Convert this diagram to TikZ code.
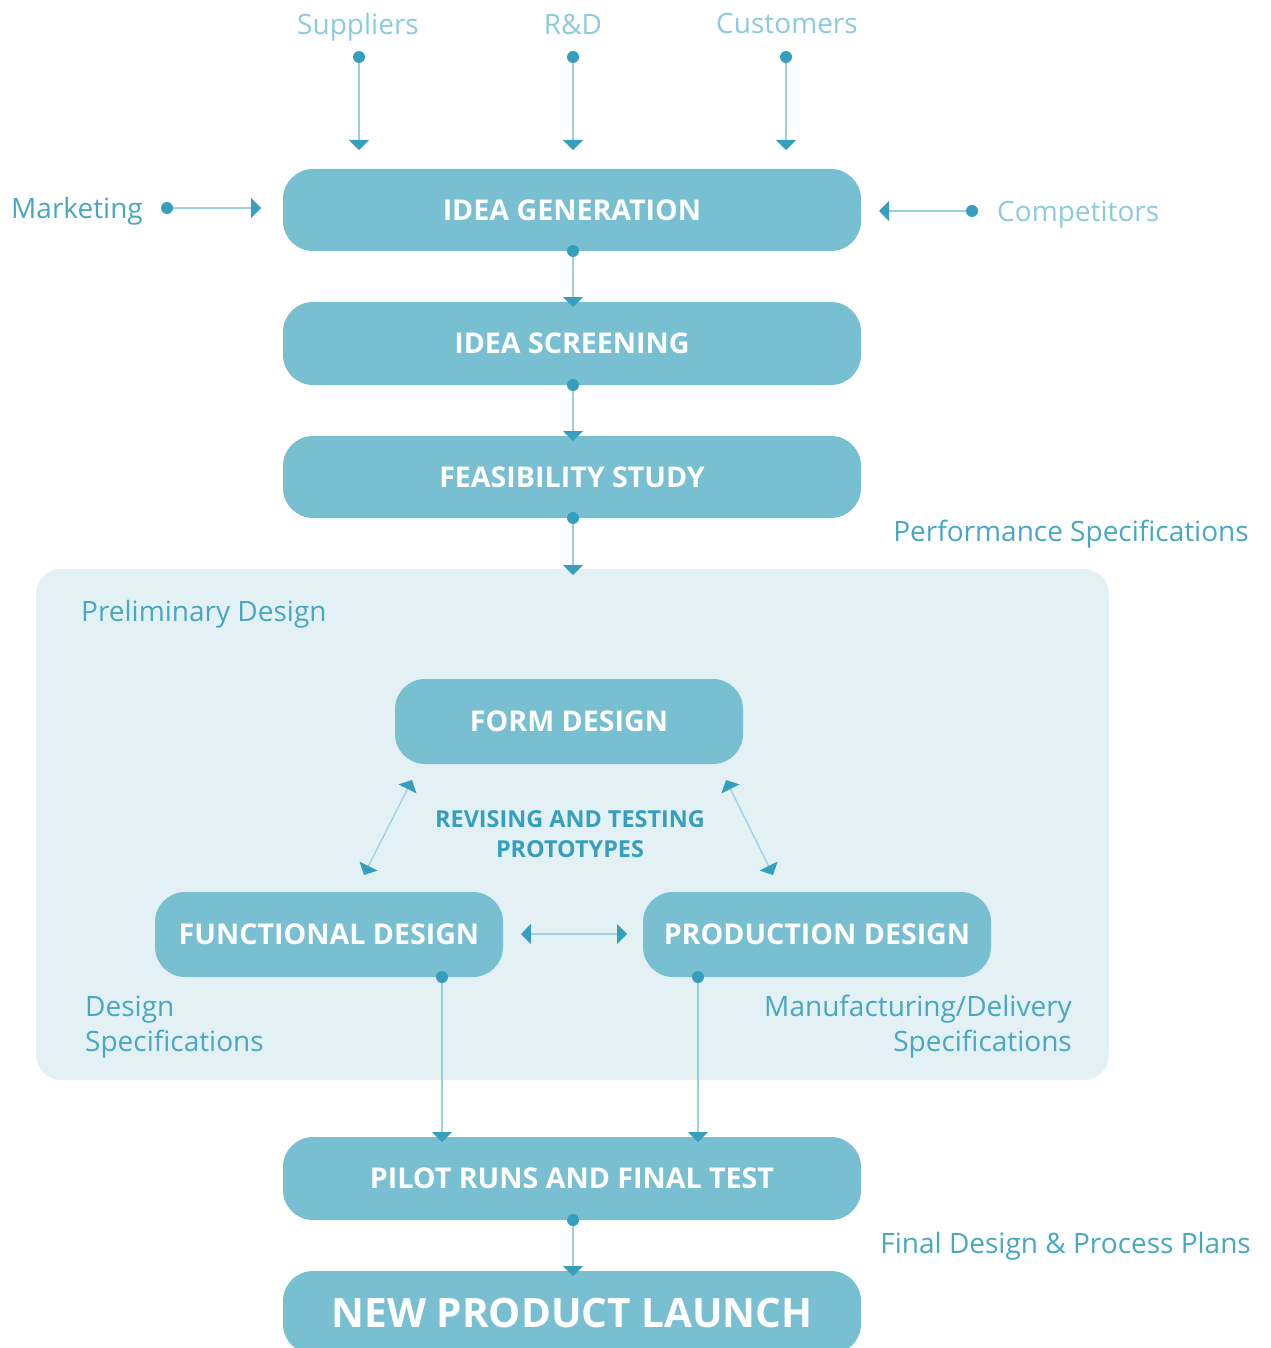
\documentclass[tikz,border=0pt]{standalone}
\usepackage{fontspec}
\setmainfont{Open Sans}
\usetikzlibrary{arrows.meta}
\definecolor{boxc}{HTML}{78BFD1}
\definecolor{panelc}{HTML}{E3F1F5}
\definecolor{tipc}{HTML}{379FBE}
\definecolor{linec}{HTML}{9CD0DF}
\definecolor{lightt}{HTML}{8CCBDD}
\definecolor{midt}{HTML}{48A7C2}
\tikzset{
  stage/.style={rectangle, rounded corners=30pt, fill=boxc, text=white, inner sep=0pt,
    minimum width=578pt, minimum height=82pt, font=\bfseries\fontsize{28.6}{33}\selectfont},
  substage/.style={stage, minimum width=348pt, minimum height=85pt},
  lbl/.style={text=midt, inner sep=0pt, font=\fontsize{28}{35}\selectfont},
  lightlbl/.style={lbl, text=lightt},
  conn/.style={draw=linec, line width=1.3pt, -{Triangle[width=20pt,length=10pt,color=tipc]}},
  dconn/.style={draw=linec, line width=1.3pt, {Triangle[width=20pt,length=10pt,color=tipc]}-{Triangle[width=20pt,length=10pt,color=tipc]}},
  dotc/.style={fill=tipc}
}
\begin{document}
\begin{tikzpicture}[x=1pt,y=-1pt]
\useasboundingbox (0,0) rectangle (1270,1348);
\clip (0,0) rectangle (1270,1348);
% panel
\fill[panelc, rounded corners=25pt] (36,569) rectangle (1109,1080);
% stages
\node[stage] (ig) at (572,210) {IDEA GENERATION};
\node[stage, minimum height=83pt] (is) at (572,343.5) {IDEA SCREENING};
\node[stage] (fs) at (572,477) {FEASIBILITY STUDY};
\node[substage] (fd) at (569,721.5) {FORM DESIGN};
\node[substage] (fud) at (329,934.5) {FUNCTIONAL DESIGN};
\node[substage] (pd) at (817,934.5) {PRODUCTION DESIGN};
\node[stage, minimum height=83pt] (pr) at (572,1178.5) {PILOT RUNS AND FINAL TEST};
\node[stage, minimum height=83pt, font=\bfseries\fontsize{40.5}{46}\selectfont] (npl) at (572,1312.5) {NEW PRODUCT LAUNCH};
% labels
\node[lightlbl] (sup) at (358,27) {Suppliers};
\node[lightlbl] (rd) at (573,24) {R\&D};
\node[lightlbl] (cus) at (787,24) {Customers};
\node[lbl, anchor=west] (mkt) at (11,211) {Marketing};
\node[lightlbl, anchor=west] (cmp) at (997,215) {Competitors};
\node[lbl, anchor=east] (perf) at (1249,534) {Performance Specifications};
\node[lbl, anchor=west] (prel) at (81,614) {Preliminary Design};
\node[lbl, anchor=north west, align=left, font=\fontsize{28}{35}\selectfont] (dspec) at (85,996) {Design\\Specifications};
\node[lbl, anchor=north east, align=right, font=\fontsize{28}{35}\selectfont] (mspec) at (1072,995) {Manufacturing/Delivery\\Specifications};
\node[lbl, anchor=east] (fin) at (1251,1246) {Final Design \& Process Plans};
\node[text=tipc, align=center, inner sep=0pt, font=\bfseries\fontsize{23.4}{29.5}\selectfont] (rev) at (570,834) {REVISING AND TESTING\\PROTOTYPES};
% coordinates
\coordinate (supd) at (359,57); \coordinate (supt) at (359,150);
\coordinate (rdd) at (573,57); \coordinate (rdt) at (573,150);
\coordinate (cusd) at (786,57); \coordinate (cust) at (786,150);
\coordinate (mktd) at (167,208); \coordinate (mktt) at (261,208);
\coordinate (cmpd) at (972,211); \coordinate (cmpt) at (879,211);
\coordinate (igd) at (573,251); \coordinate (ist) at (573,307);
\coordinate (isd) at (573,385); \coordinate (fst) at (573,441);
\coordinate (fsd) at (573,518); \coordinate (pant) at (573,575);
\coordinate (fudd) at (442,977); \coordinate (fudt) at (442,1142);
\coordinate (pdd) at (698,977); \coordinate (pdt) at (698,1142);
\coordinate (prd) at (573,1220); \coordinate (nplt) at (573,1276);
\coordinate (l1) at (412,780); \coordinate (l2) at (364,875);
\coordinate (r1) at (726,780); \coordinate (r2) at (773,875);
\coordinate (h1) at (521,934); \coordinate (h2) at (627,934);
% connectors
\foreach \a/\b in {supd/supt, rdd/rdt, cusd/cust, mktd/mktt, cmpd/cmpt, igd/ist, isd/fst, fsd/pant, fudd/fudt, pdd/pdt, prd/nplt}{
  \draw[conn] (\a) -- (\b);
  \fill[dotc] (\a) circle (6pt);
}
\draw[dconn] (l1) -- (l2);
\draw[dconn] (r1) -- (r2);
\draw[dconn] (h1) -- (h2);
\end{tikzpicture}
\end{document}
